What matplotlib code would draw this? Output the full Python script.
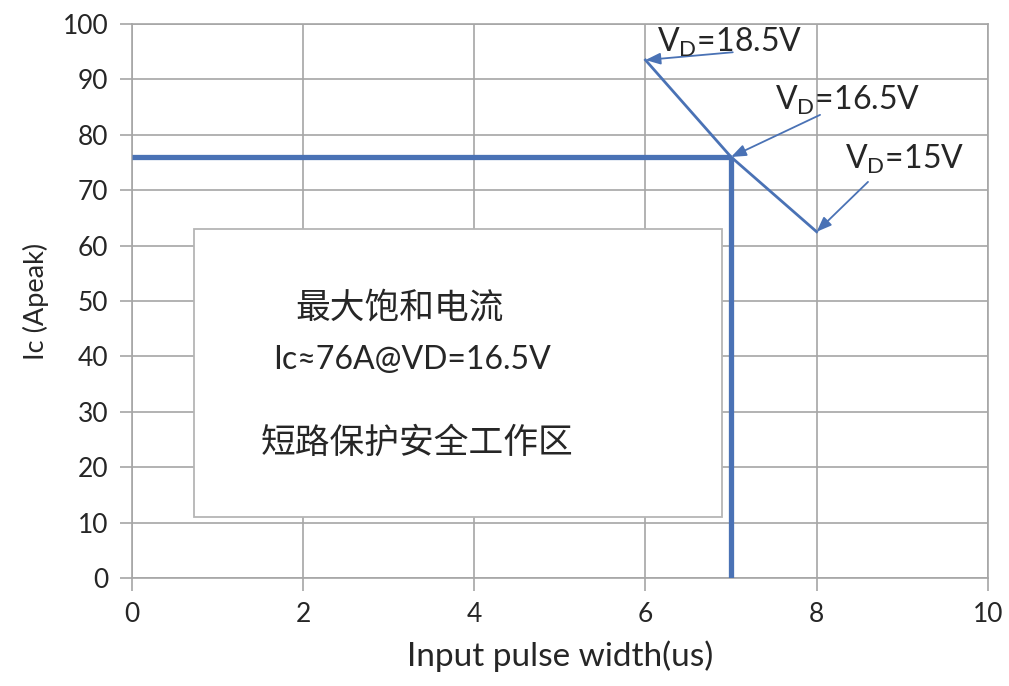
import matplotlib
matplotlib.use("Agg")
import matplotlib.pyplot as plt
from matplotlib.patches import Rectangle

# ---- data ----
pulse_width_us = [6, 7, 8]
ic_peak_a = [93.5, 76, 62.5]
vd_labels = ["18.5V", "16.5V", "15V"]
sat_current = 76
sat_width = 7
x_ticks = [0, 2, 4, 6, 8, 10]
y_ticks = [0, 10, 20, 30, 40, 50, 60, 70, 80, 90, 100]
box_lines = ["最大饱和电流", "Ic≈76A@VD=16.5V", "短路保护安全工作区"]
x_label = "Input pulse width(us)"
y_label = "Ic (Apeak)"

plt.rcParams['font.family'] = ['Lato', 'Noto Sans CJK SC', 'DejaVu Sans']
plt.rcParams['mathtext.fontset'] = 'custom'
plt.rcParams['mathtext.rm'] = 'Lato'

BLUE = '#4a72b5'
GRID = '#a6a6a6'
TXT = '#262626'

fig = plt.figure(figsize=(10.09, 6.86), dpi=100)
ax = fig.add_axes([0.1308, 0.1574, 0.979 - 0.1308, 0.965 - 0.1574])
ax.set_xlim(0, 10)
ax.set_ylim(0, 100)
ax.set_xticks(x_ticks)
ax.set_yticks(y_ticks)
ax.grid(True, color=GRID, linewidth=1.2, zorder=0)
for s in ax.spines.values():
    s.set_color(GRID)
    s.set_linewidth(1.2)
ax.tick_params(axis='both', length=9, width=1.2, color=GRID, labelsize=19,
               labelcolor=TXT, pad=8)
ax.set_xlabel(x_label, fontsize=24, color=TXT, labelpad=10)
ax.set_ylabel(y_label, fontsize=19.5, color=TXT, labelpad=10)

# text box
ax.add_patch(Rectangle((0.73, 11), 6.16, 52, facecolor='white',
                       edgecolor='#b5b5b5', linewidth=1.3, zorder=2))
ax.text(3.13, 48.7, box_lines[0], fontsize=25, ha='center', va='center',
        color=TXT, family=['Noto Sans CJK SC'], zorder=3)
ax.text(3.27, 39.4, box_lines[1], fontsize=23, ha='center', va='center',
        color=TXT, zorder=3)
ax.text(3.33, 24.4, box_lines[2], fontsize=25, ha='center', va='center',
        color=TXT, family=['Noto Sans CJK SC'], zorder=3)

# saturation lines
ax.plot([0, sat_width], [sat_current, sat_current], color=BLUE, linewidth=3.8,
        solid_capstyle='butt', zorder=4)
ax.plot([sat_width, sat_width], [0, sat_current], color=BLUE, linewidth=3.8,
        solid_capstyle='butt', zorder=4)

# diagonal curve
ax.plot(pulse_width_us, ic_peak_a, color=BLUE, linewidth=2.0, zorder=5)

# annotations
tails = [(7.02, 94.9), (8.04, 83.6), (8.6, 71.5)]
text_pos = [(6.13, 96.7), (7.51, 86.3), (8.33, 75.5)]
for x, y, lab, tail, tp in zip(pulse_width_us, ic_peak_a, vd_labels, tails, text_pos):
    ax.annotate("", xy=(x, y), xytext=tail,
                arrowprops=dict(arrowstyle='-|>,head_length=0.9,head_width=0.35',
                                color=BLUE, lw=1.3, shrinkA=0, shrinkB=0),
                zorder=6)
    ax.text(tp[0], tp[1], r"V$_\mathregular{D}$=" + lab, fontsize=23,
            ha='left', va='center', color=TXT, zorder=7)

fig.savefig("out.png", dpi=100, facecolor='white')
